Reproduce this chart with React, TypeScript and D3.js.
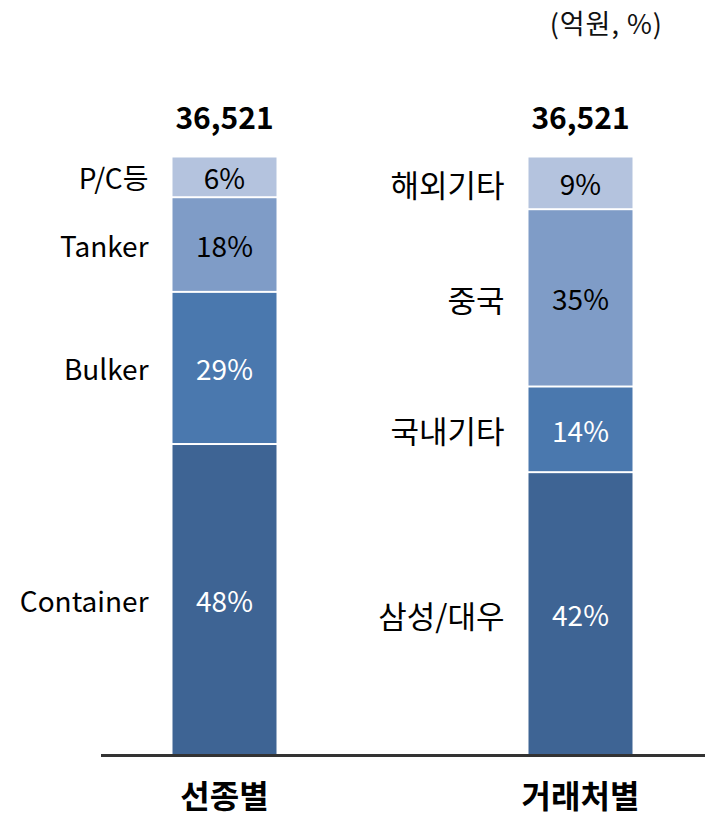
import React from "react";
import * as d3 from "d3";

const groups = ["선종별", "거래처별"];
const totals = ["36,521", "36,521"];
const unitLabel = "(억원, %)";

// segments listed bottom → top
const shipNames = ["Container", "Bulker", "Tanker", "P/C등"];
const shipShares = [52.0, 25.4, 15.8, 6.8];
const shipLabels = ["48%", "29%", "18%", "6%"];

const clientNames = ["삼성/대우", "국내기타", "중국", "해외기타"];
const clientShares = [47.3, 14.3, 29.6, 8.8];
const clientLabels = ["42%", "14%", "35%", "9%"];

const segColors = ["#3e6494", "#4a78ae", "#7f9cc7", "#b4c3de"];
const labelColors = ["#ffffff", "#ffffff", "#000000", "#000000"];

const W = 705;
const H = 816;
const FONT = "'Noto Sans CJK KR', 'Noto Sans', sans-serif";
const isKorean = (t: string) => /^[가-힣/]+$/.test(t);

export default function App() {
  const x = d3.scalePoint<string>().domain(groups).range([224.5, 580.5]);
  const y = d3.scaleLinear().domain([0, 100]).range([755.5, 156.5]);
  const barW = 104;

  const series = [
    { names: shipNames, shares: shipShares, labels: shipLabels },
    { names: clientNames, shares: clientShares, labels: clientLabels },
  ];

  return (
    <svg
      width={W}
      height={H}
      style={{ position: "absolute", left: 0, top: 0, background: "#fff" }}
      fontFamily={FONT}
    >
      <text x={663} y={22} textAnchor="end" dominantBaseline="central" fontSize={27} fill="#111" letterSpacing={1}>
        {unitLabel}
      </text>
      {groups.map((g, gi) => {
        const cx = x(g) as number;
        const s = series[gi];
        const stack = d3.stack<any>().keys(s.names.map((_, i) => String(i)))([
          Object.fromEntries(s.shares.map((v, i) => [String(i), v])),
        ]);
        return (
          <g key={g}>
            <text x={cx} y={116} textAnchor="middle" dominantBaseline="central" fontSize={30} fontWeight={700} fill="#000">
              {totals[gi]}
            </text>
            {stack.map((layer, i) => {
              const [v0, v1] = layer[0];
              const yTop = y(v1);
              const yBot = y(v0);
              const mid = (yTop + yBot) / 2;
              const name = s.names[i];
              return (
                <g key={i}>
                  <rect
                    x={cx - barW / 2}
                    y={yTop + 1}
                    width={barW}
                    height={yBot - yTop - 2}
                    fill={segColors[i]}
                  />
                  <text x={cx} y={mid + 0.5} textAnchor="middle" dominantBaseline="central" fontSize={28} fill={labelColors[i]}>
                    {s.labels[i]}
                  </text>
                  <text
                    x={cx - barW / 2 - 24}
                    y={mid + 0.5}
                    textAnchor="end"
                    dominantBaseline="central"
                    fontSize={isKorean(name) ? 31 : 28}
                    fill="#000"
                  >
                    {name}
                  </text>
                </g>
              );
            })}
            <text x={cx} y={794} textAnchor="middle" dominantBaseline="central" fontSize={32} fontWeight={700} fill="#000">
              {g}
            </text>
          </g>
        );
      })}
      <line x1={101} x2={705} y1={755.5} y2={755.5} stroke="#333" strokeWidth={3} />
    </svg>
  );
}
